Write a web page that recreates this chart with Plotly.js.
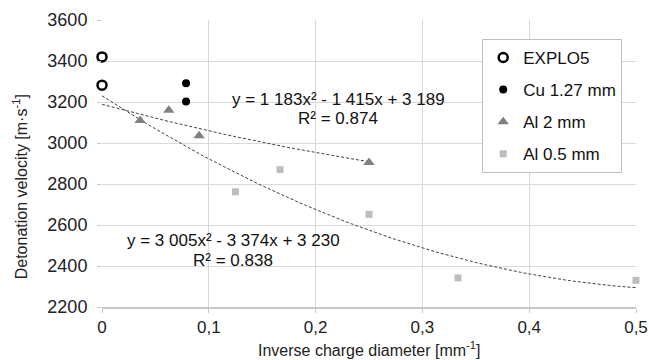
<!DOCTYPE html>
<html>
<head>
<meta charset="utf-8">
<script src="https://cdn.plot.ly/plotly-3.0.1.min.js"></script>
<style>html,body{margin:0;padding:0;background:#fff;}#chart{width:649px;height:360px;}</style>
</head>
<body>
<div id="chart"></div>
<script>
// Data
const explo5X = [0, 0];
const explo5Y = [3420, 3282];
const cuX = [0.0787, 0.0787];
const cuY = [3292, 3203];
const al2X = [0.0357, 0.0625, 0.0909, 0.25];
const al2Y = [3110, 3160, 3035, 2905];
const al05X = [0.125, 0.1667, 0.25, 0.3333, 0.5];
const al05Y = [2762, 2870, 2652, 2342, 2330];
// Trendline coefficients shown on the chart (a x^2 + b x + c) and their x extents
const fitAl2 = [1183, -1415, 3189];
const fitAl2Range = [0, 0.25];
const fitAl05 = [3005, -3374, 3230];
const fitAl05Range = [0, 0.5];
const yTicks = [2200, 2400, 2600, 2800, 3000, 3200, 3400, 3600];
const xTicks = [0, 0.1, 0.2, 0.3, 0.4, 0.5];
const xTickText = ['0', '0,1', '0,2', '0,3', '0,4', '0,5'];

function curve(coef, range) {
  const xs = [], ys = [];
  const n = 60;
  for (let i = 0; i <= n; i++) {
    const x = range[0] + (range[1] - range[0]) * i / n;
    xs.push(x);
    ys.push(coef[0] * x * x + coef[1] * x + coef[2]);
  }
  return {xs, ys};
}
const c1 = curve(fitAl2, fitAl2Range);
const c2 = curve(fitAl05, fitAl05Range);

const F = 'Liberation Sans, Arial, sans-serif';
const traces = [
  {x: c1.xs, y: c1.ys, mode: 'lines', line: {color: '#404040', width: 1, dash: '3px,2px'}, showlegend: false, hoverinfo: 'skip'},
  {x: c2.xs, y: c2.ys, mode: 'lines', line: {color: '#404040', width: 1, dash: '3px,2px'}, showlegend: false, hoverinfo: 'skip'},
  {x: explo5X, y: explo5Y, mode: 'markers', name: 'EXPLO5', legendgroup: 'a', cliponaxis: false,
   marker: {symbol: 'circle-open', size: 9, color: '#000', line: {width: 2.5, color: '#000'}}},
  {x: cuX, y: cuY, mode: 'markers', name: 'Cu 1.27 mm', legendgroup: 'b', cliponaxis: false,
   marker: {symbol: 'circle', size: 8, color: '#000'}},
  {x: al2X, y: al2Y, mode: 'markers', name: 'Al 2 mm', legendgroup: 'c', cliponaxis: false,
   marker: {symbol: 'triangle-up', size: 10, color: '#808080'}},
  {x: al05X, y: al05Y, mode: 'markers', name: 'Al 0.5 mm', legendgroup: 'd', cliponaxis: false,
   marker: {symbol: 'square', size: 7, color: '#bdbdbd'}}
];

const layout = {
  width: 649, height: 360,
  margin: {l: 102, r: 13, t: 20, b: 53},
  paper_bgcolor: '#fff', plot_bgcolor: '#fff',
  font: {family: F, size: 17, color: '#222'},
  showlegend: true,
  legend: {x: 0.712, y: 0.934, xanchor: 'left', yanchor: 'top', bgcolor: '#fff',
           bordercolor: '#bfbfbf', borderwidth: 1, font: {family: F, size: 17, color: '#111'},
           tracegroupgap: 7, traceorder: 'grouped'},
  xaxis: {range: [0, 0.5], tickvals: xTicks, ticktext: xTickText, showgrid: true, gridcolor: '#d9d9d9', gridwidth: 1,
          zeroline: false, showline: true, linecolor: '#c8c8c8', linewidth: 2, ticks: 'outside', ticklen: 4,
          tickcolor: '#c8c8c8', tickfont: {family: F, size: 17, color: '#222'}, fixedrange: true},
  yaxis: {range: [2200, 3600], tickvals: yTicks, showgrid: true, gridcolor: '#d9d9d9', gridwidth: 1,
          zeroline: false, showline: false, ticks: 'outside', ticklen: 4, tickcolor: '#c8c8c8',
          ticklabelstandoff: 6, tickfont: {family: F, size: 18, color: '#222'}, fixedrange: true},
  annotations: [
    {xref: 'x', yref: 'y', x: 0.221, y: 3214, text: 'y = 1 183x² - 1 415x + 3 189', showarrow: false, font: {family: F, size: 17, color: '#111'}},
    {xref: 'x', yref: 'y', x: 0.221, y: 3121, text: 'R² = 0.874', showarrow: false, font: {family: F, size: 17, color: '#111'}},
    {xref: 'x', yref: 'y', x: 0.1227, y: 2524, text: 'y = 3 005x² - 3 374x + 3 230', showarrow: false, font: {family: F, size: 17, color: '#111'}},
    {xref: 'x', yref: 'y', x: 0.1227, y: 2426, text: 'R² = 0.838', showarrow: false, font: {family: F, size: 17, color: '#111'}},
    {xref: 'paper', yref: 'paper', x: 0.5, y: -0.145, yanchor: 'middle', xanchor: 'center',
     text: 'Inverse charge diameter [mm<sup>-1</sup>]', showarrow: false, font: {family: F, size: 16, color: '#222'}},
    {xref: 'paper', yref: 'paper', x: -0.152, y: 0.42, xanchor: 'center', yanchor: 'middle', textangle: -90,
     text: 'Detonation velocity [m·s<sup>-1</sup>]', showarrow: false, font: {family: F, size: 16, color: '#222'}}
  ]
};

Plotly.newPlot('chart', traces, layout, {displayModeBar: false, staticPlot: true});
</script>
</body>
</html>
